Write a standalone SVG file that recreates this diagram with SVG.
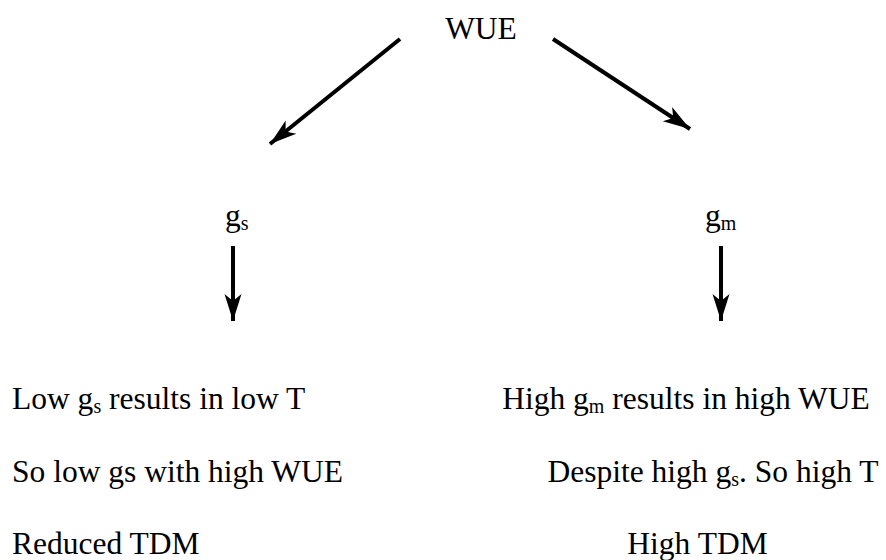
<svg xmlns="http://www.w3.org/2000/svg" width="886" height="560" viewBox="0 0 886 560">
<style>
text{font-family:"Liberation Serif","Times New Roman",serif;font-size:31.5px;fill:#000}
.sub{font-size:20px}
.mid{text-anchor:middle}
.conn line{stroke:#000;stroke-width:4;fill:none}
</style>
<defs>
<marker id="ah" markerUnits="userSpaceOnUse" markerWidth="34" markerHeight="24" refX="0" refY="0" viewBox="-30 -12 34 24" orient="auto" overflow="visible">
<path d="M0,0 L-27,-8.5 L-20,0 L-27,8.5 Z" fill="#000"/>
</marker>
</defs>
<rect width="886" height="560" fill="#fff"/>
<g id="wue"><text class="mid" x="481" y="39">WUE</text></g>
<g id="gs"><text x="225" y="226">g<tspan class="sub" dy="4">s</tspan></text></g>
<g id="gm"><text x="705" y="226">g<tspan class="sub" dy="4">m</tspan></text></g>
<g id="left-text">
<text x="12" y="409">Low g<tspan class="sub" dy="4">s</tspan><tspan dy="-4"> results in low T</tspan></text>
<text x="12" y="482">So low gs with high WUE</text>
<text x="12" y="554">Reduced TDM</text>
</g>
<g id="right-text">
<text class="mid" x="686" y="409">High g<tspan class="sub" dy="4">m</tspan><tspan dy="-4"> results in high WUE</tspan></text>
<text class="mid" x="713" y="482">Despite high g<tspan class="sub" dy="4">s</tspan><tspan dy="-4">. So high T</tspan></text>
<text class="mid" x="697.5" y="554">High TDM</text>
</g>
<g class="conn" id="connectors">
<line x1="400" y1="39" x2="270" y2="144" marker-end="url(#ah)"/>
<line x1="553" y1="39" x2="690" y2="129" marker-end="url(#ah)"/>
<line x1="233" y1="246" x2="233" y2="321" marker-end="url(#ah)"/>
<line x1="721" y1="246" x2="721" y2="321" marker-end="url(#ah)"/>
</g>
</svg>
